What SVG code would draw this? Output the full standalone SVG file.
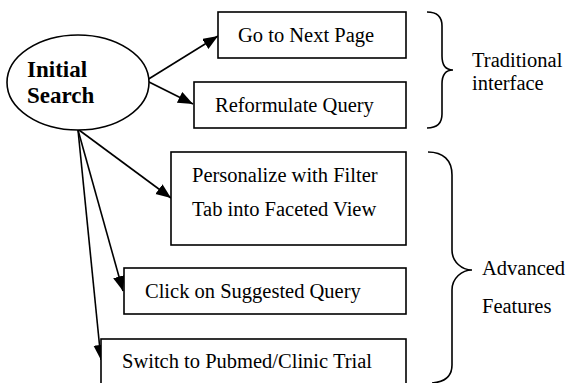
<svg xmlns="http://www.w3.org/2000/svg" width="576" height="383" viewBox="0 0 576 383">
  <style>
    .box { fill: #ffffff; stroke: #000000; stroke-width: 1.6; }
    .lbl { font-family: 'Liberation Serif', 'DejaVu Serif', serif; font-size: 20.5px; fill: #000000; }
    .bold { font-weight: bold; font-size: 23px; }
    .edge { stroke: #000000; stroke-width: 1.6; fill: none; marker-end: url(#arrow); }
    .brace { stroke: #000000; stroke-width: 1.6; fill: none; }
  </style>
  <defs>
    <marker id="arrow" markerUnits="userSpaceOnUse" markerWidth="16" markerHeight="13" refX="15" refY="6" orient="auto">
      <path d="M0,0 L15,6 L0,12 z" fill="#000000"/>
    </marker>
  </defs>
  <rect width="576" height="383" fill="#ffffff"/>

  <!-- connectors -->
  <g id="connectors">
    <line class="edge" x1="147" y1="80" x2="218" y2="36"/>
    <line class="edge" x1="147" y1="81" x2="193" y2="104"/>
    <line class="edge" x1="79" y1="130" x2="171" y2="198"/>
    <line class="edge" x1="78" y1="130" x2="123" y2="291"/>
    <line class="edge" x1="78" y1="130" x2="101" y2="360"/>
  </g>

  <!-- start node -->
  <g id="initial-search">
    <ellipse cx="78" cy="82.5" rx="71" ry="47.5" fill="#ffffff" stroke="#000000" stroke-width="1.6"/>
    <text class="lbl bold" x="27" y="77" font-family="Liberation Serif">Initial</text>
    <text class="lbl bold" x="27" y="103" font-family="Liberation Serif">Search</text>
  </g>

  <g id="next-page">
    <rect class="box" x="218" y="12" width="188" height="46"/>
    <text class="lbl" x="238" y="42">Go to Next Page</text>
  </g>

  <g id="reformulate">
    <rect class="box" x="194" y="82" width="212" height="46"/>
    <text class="lbl" x="215" y="112">Reformulate Query</text>
  </g>

  <g id="personalize">
    <rect class="box" x="171" y="152" width="235" height="93"/>
    <text class="lbl" x="192" y="182">Personalize with Filter</text>
    <text class="lbl" x="192" y="216">Tab into Faceted View</text>
  </g>

  <g id="suggested-query">
    <rect class="box" x="124" y="268" width="282" height="46"/>
    <text class="lbl" x="145" y="298">Click on Suggested Query</text>
  </g>

  <g id="switch-source">
    <rect class="box" x="101" y="339" width="305" height="60"/>
    <text class="lbl" x="122" y="368">Switch to Pubmed/Clinic Trial</text>
  </g>

  <!-- grouping braces -->
  <g id="traditional">
    <path class="brace" d="M427,12 C437,12 442,16 442,26 L442,56 C442,66 446,70 453,70 C446,70 442,74 442,84 L442,114 C442,124 437,128 427,128"/>
    <text class="lbl" x="472" y="67">Traditional</text>
    <text class="lbl" x="472" y="90">interface</text>
  </g>

  <g id="advanced">
    <path class="brace" d="M428,152 C443,152 452,160 452,175 L452,250 C452,262 462,270 472,270 C462,270 452,278 452,290 L452,365 C452,376 445,382 432,383"/>
    <text class="lbl" x="482" y="275">Advanced</text>
    <text class="lbl" x="482" y="313">Features</text>
  </g>
</svg>
